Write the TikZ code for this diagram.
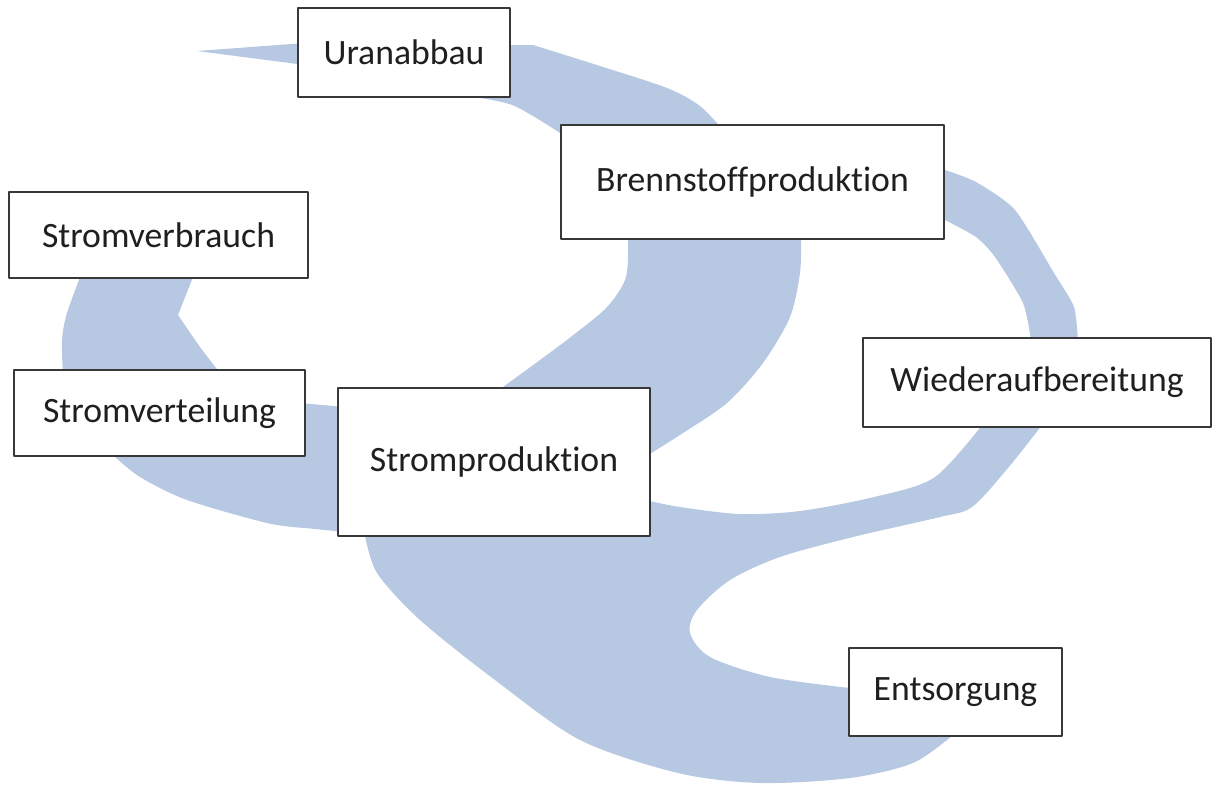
\documentclass[tikz,border=0pt]{standalone}
\usepackage{fontspec}
\setmainfont[Ligatures=NoCommon]{Carlito}
\usepackage{tikz}
\definecolor{riverblue}{RGB}{183,201,226}

\begin{document}
\begin{tikzpicture}[line cap=round, line join=round,
                    x=0.02cm, y=-0.02cm,
                    river/.style={fill=riverblue, draw=none},
                    box/.style={draw=black!78, line width=0.9pt, fill=white,
                                inner sep=0pt, text=black!88,
                                font=\fontsize{20.3}{24}\selectfont}]
\useasboundingbox (0,0) rectangle (1214,785);
\fill[river] (197,51) -- (305,43) -- (305,65) -- cycle;
\fill[river] (505,45) -- plot[smooth] coordinates {(533,45) (600,66) (667,88) (700,106) (723,130)}
-- (723,140) -- (565,140) -- plot[smooth] coordinates {(560,133) (512,105) (460,95)} -- (460,90) -- cycle;
\fill[river] plot[smooth] coordinates {(492,395) (540,360) (572,336) (607,307) (626,277) (628,235)}
-- (801,235) -- plot[smooth] coordinates {(801,240) (800,273) (790,317) (763,363) (727,403) (683,433) (645,457)}
-- (600,420) -- cycle;
\fill[river] (935,168) -- plot[smooth, tension=0.4] coordinates {(945,170) (976,182) (1015,210) (1054,273) (1074,307) (1078,342)}
-- (1031,342) -- plot[smooth, tension=0.4] coordinates {(1031,340) (1023,303) (995,257) (976,237) (945,220)}
-- (935,220) -- cycle;
\fill[river] plot[smooth] coordinates {(986,420) (935,477) (874,497) (800,511) (740,514) (680,507) (645,500)}
-- (645,530) -- (362,530)
-- plot[smooth, tension=0.5] coordinates {(365,535) (377,573) (420,620) (495,680) (580,740) (678,773) (760,783) (850,778) (913,763) (953,735)}
-- (960,730) -- (855,690)
-- plot[smooth] coordinates {(850,688) (770,677) (710,657) (690,633) (697,610) (730,580) (780,557) (853,537) (940,517) (972,507) (1008,468) (1042,425)}
-- cycle;
\fill[river] plot[smooth] coordinates {(82,272) (67,313) (62,340) (63,375)}
-- (222,375) -- plot[smooth, tension=0.3] coordinates {(220,373) (200,347) (178,315)} -- (195,272) -- cycle;
\fill[river] (300,403) -- (345,407) -- (345,532)
-- plot[smooth] coordinates {(305,528) (267,523) (187,500) (140,477) (113,455)}
-- (113,450) -- (300,450) -- cycle;

\node[box, minimum width=4.24cm, minimum height=1.78cm] (uran) at (404,52.5) {Uranabbau};
\node[box, minimum width=7.66cm, minimum height=2.28cm] (brenn) at (752.5,182) {Brennstoffproduktion};
\node[box, minimum width=5.98cm, minimum height=1.72cm] (verbrauch) at (158.5,235) {Stromverbrauch};
\node[box, minimum width=6.96cm, minimum height=1.78cm] (wieder) at (1037,382.5) {Wiederaufbereitung};
\node[box, minimum width=5.82cm, minimum height=1.72cm] (verteil) at (159.5,413) {Stromverteilung};
\node[box, minimum width=6.24cm, minimum height=2.96cm] (strom) at (494,462) {Stromproduktion};
\node[box, minimum width=4.26cm, minimum height=1.76cm] (entsorg) at (955.5,692) {Entsorgung};
\end{tikzpicture}
\end{document}
